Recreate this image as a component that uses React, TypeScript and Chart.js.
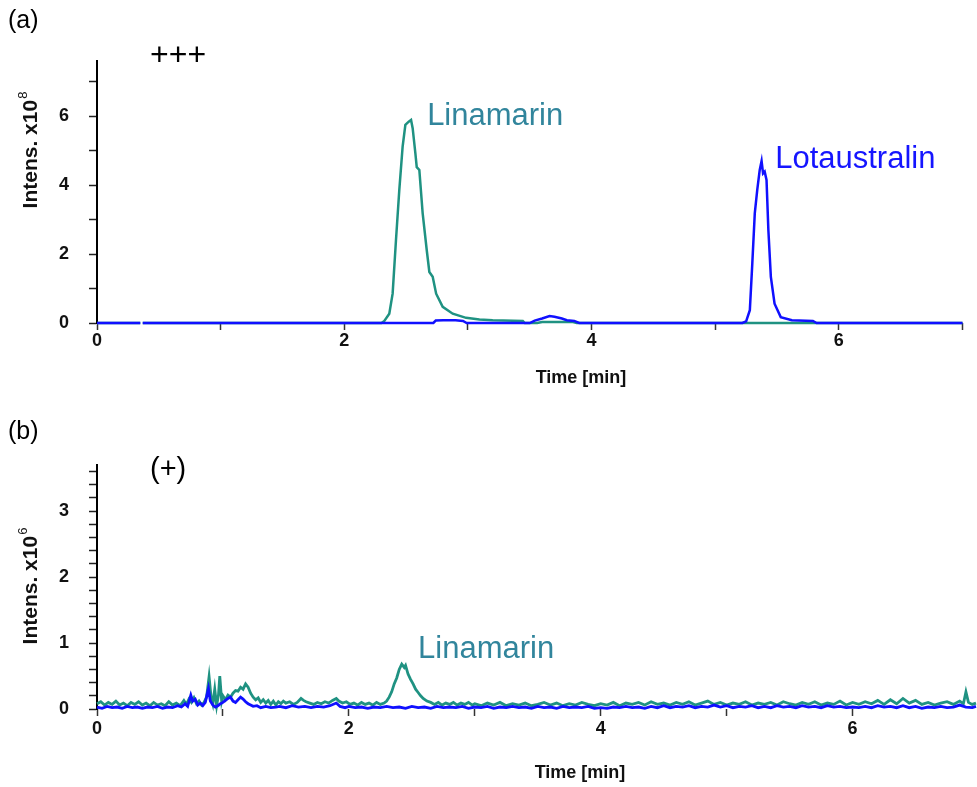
import React, { useEffect, useRef } from "react";
import { Chart, registerables } from "chart.js";

Chart.register(...registerables);

// ---------- data ----------
// Panel (a): time [min], intensity x10^8
const tealA: [number, number | null][] = [
  [0, 0], [0.35, 0], [0.36, null], [0.37, 0], [2.3, 0], [2.324, 0.06], [2.364, 0.27], [2.391, 0.85],
  [2.418, 2.4], [2.445, 3.86], [2.472, 5.12], [2.494, 5.75], [2.521, 5.84], [2.54, 5.89], [2.553, 5.65],
  [2.575, 4.92], [2.586, 4.52], [2.607, 4.44], [2.634, 3.18], [2.667, 2.11], [2.688, 1.48], [2.715, 1.34],
  [2.743, 0.85], [2.796, 0.47], [2.877, 0.27], [2.985, 0.15], [3.093, 0.1], [3.2, 0.08], [3.444, 0.06],
  [3.46, 0], [3.56, 0], [3.6, 0.03], [3.85, 0.03], [3.88, 0], [7, 0],
];
const blueA: [number, number | null][] = [
  [0, 0], [0.35, 0], [0.36, null], [0.37, 0], [2.72, 0], [2.74, 0.07], [2.8, 0.08], [2.9, 0.08], [2.96, 0.06],
  [2.99, 0], [3.5, 0], [3.54, 0.07], [3.6, 0.13], [3.66, 0.2], [3.7, 0.18], [3.76, 0.13], [3.8, 0.08],
  [3.86, 0.06], [3.9, 0], [5.22, 0], [5.25, 0.05], [5.28, 0.37], [5.3, 1.73], [5.32, 3.18], [5.34, 3.86],
  [5.36, 4.44], [5.375, 4.7], [5.387, 4.34], [5.4, 4.39], [5.415, 4.15], [5.43, 2.69], [5.45, 1.34],
  [5.48, 0.56], [5.53, 0.17], [5.62, 0.08], [5.79, 0.06], [5.82, 0], [7, 0],
];

// Panel (b): time [min], intensity x10^6
const tealB: [number, number][] = [
  [0, 0.08], [0.03, 0.11], [0.06, 0.06], [0.09, 0.1], [0.12, 0.07], [0.15, 0.12], [0.18, 0.06], [0.21, 0.09],
  [0.24, 0.05], [0.27, 0.1], [0.3, 0.07], [0.33, 0.11], [0.36, 0.06], [0.39, 0.09], [0.42, 0.05], [0.45, 0.1],
  [0.48, 0.06], [0.51, 0.08], [0.54, 0.05], [0.57, 0.11], [0.6, 0.06], [0.63, 0.09], [0.66, 0.05], [0.69, 0.13],
  [0.71, 0.07], [0.73, 0.15], [0.75, 0.1], [0.77, 0.17], [0.79, 0.08], [0.81, 0.12], [0.83, 0.06], [0.85, 0.1],
  [0.87, 0.18], [0.89, 0.49], [0.905, 0.2], [0.92, 0.08], [0.935, 0.3], [0.95, 0.05], [0.965, 0.22],
  [0.975, 0.5], [0.99, 0.12], [1.0, 0.2], [1.02, 0.14], [1.04, 0.21], [1.06, 0.18], [1.08, 0.24], [1.1, 0.28],
  [1.12, 0.27], [1.14, 0.33], [1.16, 0.3], [1.18, 0.38], [1.2, 0.33], [1.22, 0.24], [1.24, 0.18], [1.26, 0.14],
  [1.28, 0.17], [1.3, 0.1], [1.32, 0.14], [1.34, 0.09], [1.36, 0.13], [1.38, 0.07], [1.4, 0.12], [1.42, 0.06],
  [1.44, 0.11], [1.46, 0.08], [1.48, 0.12], [1.5, 0.09], [1.53, 0.11], [1.56, 0.07], [1.59, 0.1], [1.62, 0.16],
  [1.64, 0.13], [1.66, 0.11], [1.69, 0.09], [1.72, 0.07], [1.75, 0.1], [1.78, 0.08], [1.81, 0.11], [1.84, 0.09],
  [1.87, 0.13], [1.9, 0.16], [1.92, 0.12], [1.95, 0.09], [1.98, 0.11], [2.01, 0.07], [2.04, 0.09], [2.07, 0.06],
  [2.1, 0.1], [2.13, 0.07], [2.16, 0.09], [2.19, 0.06], [2.22, 0.1], [2.25, 0.07], [2.28, 0.09], [2.3, 0.12],
  [2.32, 0.18], [2.34, 0.26], [2.36, 0.38], [2.38, 0.47], [2.4, 0.6], [2.42, 0.68], [2.44, 0.63], [2.45, 0.66],
  [2.47, 0.53], [2.49, 0.45], [2.51, 0.38], [2.53, 0.3], [2.55, 0.25], [2.57, 0.2], [2.59, 0.16], [2.62, 0.12],
  [2.65, 0.1], [2.68, 0.07], [2.71, 0.1], [2.74, 0.06], [2.77, 0.09], [2.8, 0.07], [2.83, 0.1], [2.86, 0.06],
  [2.89, 0.09], [2.92, 0.07], [2.95, 0.1], [2.98, 0.06], [3.0, 0.08], [3.05, 0.05], [3.1, 0.09], [3.15, 0.06],
  [3.2, 0.1], [3.25, 0.05], [3.3, 0.08], [3.35, 0.06], [3.4, 0.09], [3.45, 0.05], [3.5, 0.07], [3.55, 0.1],
  [3.6, 0.06], [3.65, 0.09], [3.7, 0.05], [3.75, 0.08], [3.8, 0.06], [3.85, 0.1], [3.9, 0.07], [3.95, 0.05],
  [4.0, 0.08], [4.05, 0.06], [4.1, 0.1], [4.15, 0.05], [4.2, 0.09], [4.25, 0.07], [4.3, 0.1], [4.35, 0.06],
  [4.4, 0.11], [4.45, 0.07], [4.5, 0.09], [4.55, 0.06], [4.6, 0.1], [4.65, 0.07], [4.7, 0.11], [4.75, 0.06],
  [4.8, 0.09], [4.85, 0.12], [4.9, 0.07], [4.95, 0.1], [5.0, 0.06], [5.05, 0.09], [5.1, 0.07], [5.15, 0.11],
  [5.2, 0.06], [5.25, 0.09], [5.3, 0.07], [5.35, 0.1], [5.4, 0.06], [5.45, 0.11], [5.5, 0.08], [5.55, 0.06],
  [5.6, 0.1], [5.65, 0.07], [5.7, 0.11], [5.75, 0.06], [5.8, 0.09], [5.85, 0.07], [5.9, 0.12], [5.95, 0.06],
  [6.0, 0.1], [6.05, 0.07], [6.1, 0.11], [6.15, 0.08], [6.2, 0.13], [6.25, 0.07], [6.3, 0.14], [6.35, 0.08],
  [6.4, 0.16], [6.45, 0.09], [6.5, 0.13], [6.55, 0.07], [6.6, 0.1], [6.65, 0.06], [6.7, 0.09], [6.75, 0.11],
  [6.8, 0.07], [6.85, 0.12], [6.88, 0.08], [6.9, 0.26], [6.92, 0.1], [6.95, 0.07], [6.98, 0.09],
];
const blueB: [number, number][] = [
  [0, 0.03], [0.04, 0.01], [0.08, 0.04], [0.12, 0.02], [0.16, 0.03], [0.2, 0.01], [0.24, 0.04], [0.28, 0.02],
  [0.32, 0.03], [0.36, 0.01], [0.4, 0.03], [0.44, 0.02], [0.48, 0.04], [0.52, 0.01], [0.56, 0.03], [0.6, 0.02],
  [0.64, 0.05], [0.67, 0.03], [0.7, 0.08], [0.72, 0.04], [0.745, 0.21], [0.76, 0.12], [0.78, 0.15], [0.8, 0.06],
  [0.82, 0.09], [0.84, 0.05], [0.86, 0.1], [0.885, 0.31], [0.9, 0.12], [0.92, 0.06], [0.94, 0.03], [0.96, 0.05],
  [0.98, 0.08], [1.0, 0.1], [1.02, 0.13], [1.04, 0.16], [1.06, 0.18], [1.08, 0.12], [1.1, 0.1], [1.12, 0.14],
  [1.14, 0.18], [1.16, 0.15], [1.18, 0.11], [1.2, 0.08], [1.22, 0.06], [1.24, 0.04], [1.27, 0.05], [1.3, 0.02],
  [1.34, 0.04], [1.38, 0.02], [1.42, 0.03], [1.45, 0.04], [1.5, 0.02], [1.55, 0.05], [1.6, 0.03], [1.65, 0.04],
  [1.7, 0.02], [1.75, 0.04], [1.8, 0.03], [1.85, 0.05], [1.9, 0.09], [1.93, 0.04], [1.97, 0.02], [2.0, 0.04],
  [2.05, 0.02], [2.1, 0.03], [2.15, 0.01], [2.2, 0.03], [2.25, 0.02], [2.3, 0.04], [2.35, 0.02], [2.4, 0.03],
  [2.45, 0.01], [2.5, 0.04], [2.55, 0.02], [2.6, 0.03], [2.65, 0.01], [2.7, 0.04], [2.75, 0.02], [2.8, 0.03],
  [2.85, 0.02], [2.9, 0.04], [2.95, 0.01], [3.0, 0.03], [3.05, 0.02], [3.1, 0.04], [3.15, 0.01], [3.2, 0.03],
  [3.25, 0.02], [3.3, 0.04], [3.35, 0.02], [3.4, 0.03], [3.45, 0.01], [3.5, 0.04], [3.55, 0.02], [3.6, 0.03],
  [3.65, 0.01], [3.7, 0.04], [3.75, 0.02], [3.8, 0.03], [3.85, 0.02], [3.9, 0.04], [3.95, 0.01], [4.0, 0.02],
  [4.05, 0.01], [4.1, 0.03], [4.15, 0.02], [4.2, 0.04], [4.25, 0.02], [4.3, 0.03], [4.35, 0.01], [4.4, 0.04],
  [4.45, 0.02], [4.5, 0.05], [4.55, 0.02], [4.6, 0.04], [4.65, 0.03], [4.7, 0.05], [4.75, 0.02], [4.8, 0.04],
  [4.85, 0.03], [4.9, 0.06], [4.95, 0.03], [5.0, 0.05], [5.05, 0.02], [5.1, 0.04], [5.15, 0.03], [5.2, 0.05],
  [5.25, 0.02], [5.3, 0.04], [5.35, 0.02], [5.4, 0.05], [5.45, 0.03], [5.5, 0.04], [5.55, 0.02], [5.6, 0.05],
  [5.65, 0.03], [5.7, 0.04], [5.75, 0.02], [5.8, 0.05], [5.85, 0.03], [5.9, 0.04], [5.95, 0.02], [6.0, 0.03],
  [6.05, 0.02], [6.1, 0.04], [6.15, 0.02], [6.2, 0.05], [6.25, 0.03], [6.3, 0.04], [6.35, 0.02], [6.4, 0.05],
  [6.45, 0.02], [6.5, 0.04], [6.55, 0.01], [6.6, 0.03], [6.65, 0.02], [6.7, 0.04], [6.75, 0.02], [6.8, 0.03],
  [6.85, 0.06], [6.9, 0.03], [6.95, 0.02], [6.98, 0.04],
];

// ticks
const xTicksA = [0, 1, 2, 3, 4, 5, 6, 7];
const xTicksB = [0, 1, 2, 3, 4, 5, 6];
const xLabels = [0, 2, 4, 6];
const yTicksA = [0, 1, 2, 3, 4, 5, 6, 7];
const yLabelsA = [0, 2, 4, 6];
const yTicksB = [0, 0.2, 0.4, 0.6, 0.8, 1, 1.2, 1.4, 1.6, 1.8, 2, 2.2, 2.4, 2.6, 2.8, 3, 3.2, 3.4, 3.6];
const yLabelsB = [0, 1, 2, 3];

// ---------- styles ----------
const FONT = "'Liberation Sans', Arial, Helvetica, sans-serif";
const TEAL = "#1f9282";
const BLUE = "#1010ff";
const LABEL_TEAL = "#31859c";
const LABEL_BLUE = "#1515ff";

type Item = {
  text: string;
  sup?: string;
  x?: number; y?: number; // data coords
  px?: number; py?: number; // pixel coords
  font: string;
  supFont?: string;
  color: string;
  align?: "left" | "center";
  rot?: boolean;
};

const textPlugin = {
  id: "texts",
  afterDraw(chart: any, _args: any, opts: any) {
    const ctx: CanvasRenderingContext2D = chart.ctx;
    const xs = chart.scales.x;
    const ys = chart.scales.y;
    const items: Item[] = opts.items || [];
    for (const a of items) {
      ctx.save();
      const px = a.px !== undefined ? a.px : xs.getPixelForValue(a.x);
      const py = a.py !== undefined ? a.py : ys.getPixelForValue(a.y);
      ctx.translate(px, py);
      if (a.rot) ctx.rotate(-Math.PI / 2);
      ctx.fillStyle = a.color;
      ctx.textBaseline = "middle";
      ctx.textAlign = "left";
      ctx.font = a.font;
      const w = ctx.measureText(a.text).width;
      let sw = 0;
      if (a.sup) {
        ctx.font = a.supFont || a.font;
        sw = ctx.measureText(a.sup).width + 1;
        ctx.font = a.font;
      }
      const start = a.align === "center" ? -(w + sw) / 2 : 0;
      ctx.fillText(a.text, start, 0);
      if (a.sup) {
        ctx.font = a.supFont || a.font;
        ctx.fillText(a.sup, start + w + 1, -8);
      }
      ctx.restore();
    }
  },
};

function makeConfig(opts: {
  teal: [number, number | null][];
  blue: [number, number | null][];
  xMax: number;
  yMax: number;
  xTicks: number[];
  yTicks: number[];
  yLabels: number[];
  lineWidth: number;
  padTop: number;
  padRight: number;
  xHeight: number;
  xPad: number;
  items: Item[];
}) {
  const tickFont = { family: FONT, size: 18, weight: "bold" as const };
  return {
    type: "line" as const,
    data: {
      datasets: [
        {
          data: opts.blue.map(([x, y]) => ({ x, y })),
          borderColor: BLUE,
          borderWidth: opts.lineWidth,
          pointRadius: 0,
          tension: 0,
          spanGaps: false,
          clip: 6,
        },
        {
          data: opts.teal.map(([x, y]) => ({ x, y })),
          borderColor: TEAL,
          borderWidth: opts.lineWidth,
          pointRadius: 0,
          tension: 0,
          spanGaps: false,
          clip: 6,
        },
      ],
    },
    options: {
      animation: false,
      responsive: false,
      events: [],
      layout: { padding: { top: opts.padTop, right: opts.padRight, left: 0, bottom: 0 } },
      plugins: {
        legend: { display: false },
        tooltip: { enabled: false },
        texts: { items: opts.items },
      },
      scales: {
        x: {
          type: "linear",
          min: 0,
          max: opts.xMax,
          border: { display: false },
          grid: { drawOnChartArea: false, drawTicks: true, tickLength: 7, tickColor: "#333", tickWidth: 1.5 },
          afterBuildTicks: (s: any) => {
            s.ticks = opts.xTicks.map((v) => ({ value: v }));
          },
          afterFit: (s: any) => {
            s.height = opts.xHeight;
          },
          ticks: {
            autoSkip: false,
            maxRotation: 0,
            padding: opts.xPad,
            color: "#111",
            font: tickFont,
            callback: (v: any) => (xLabels.includes(Number(v)) ? String(v) : ""),
          },
        },
        y: {
          type: "linear",
          min: 0,
          max: opts.yMax,
          border: { display: true, color: "#000", width: 2 },
          grid: { drawOnChartArea: false, drawTicks: true, tickLength: 8, tickColor: "#222", tickWidth: 1.5 },
          afterBuildTicks: (s: any) => {
            s.ticks = opts.yTicks.map((v) => ({ value: v }));
          },
          afterFit: (s: any) => {
            s.width = 97;
          },
          ticks: {
            autoSkip: false,
            padding: 20,
            color: "#111",
            font: tickFont,
            callback: (v: any) => {
              const n = Number(v);
              return opts.yLabels.some((l) => Math.abs(l - n) < 1e-6) ? String(Math.round(n)) : "";
            },
          },
        },
      },
    },
    plugins: [textPlugin],
  };
}

const titleFont = `bold 18px ${FONT}`;
const yTitleFont = `bold 21px ${FONT}`;
const supFont = `13px ${FONT}`;
const panelFont = `25px ${FONT}`;
const noteFont = `31px ${FONT}`;

export default function App() {
  const refA = useRef<HTMLCanvasElement>(null);
  const refB = useRef<HTMLCanvasElement>(null);

  useEffect(() => {
    const a = new Chart(
      refA.current as HTMLCanvasElement,
      makeConfig({
        teal: tealA,
        blue: blueA,
        xMax: 7,
        yMax: 7.6,
        xTicks: xTicksA,
        yTicks: yTicksA,
        yLabels: yLabelsA,
        lineWidth: 2.5,
        padTop: 61,
        padRight: 14.5,
        xHeight: 72,
        xPad: 0,
        items: [
          { text: "(a)", px: 8, py: 21, font: panelFont, color: "#000" },
          { text: "+++", px: 150, py: 56, font: `32px ${FONT}`, color: "#000" },
          { text: "Linamarin", x: 2.67, y: 5.98, font: noteFont, color: LABEL_TEAL },
          { text: "Lotaustralin", x: 5.485, y: 4.73, font: noteFont, color: LABEL_BLUE },
          { text: "Time [min]", px: 581, py: 378, font: titleFont, color: "#111", align: "center" },
          { text: "Intens. x10", sup: "8", supFont, px: 31, py: 150, font: yTitleFont, color: "#111", align: "center", rot: true },
        ],
      }) as any
    );
    const b = new Chart(
      refB.current as HTMLCanvasElement,
      makeConfig({
        teal: tealB,
        blue: blueB,
        xMax: 6.98,
        yMax: 3.7,
        xTicks: xTicksB,
        yTicks: yTicksB,
        yLabels: yLabelsB,
        lineWidth: 2.8,
        padTop: 70,
        padRight: 1,
        xHeight: 78,
        xPad: 2,
        items: [
          { text: "(b)", px: 8, py: 37, font: panelFont, color: "#000" },
          { text: "(+)", px: 150, py: 75, font: `29px ${FONT}`, color: "#000" },
          { text: "Linamarin", x: 2.55, y: 0.91, font: noteFont, color: LABEL_TEAL },
          { text: "Time [min]", px: 580, py: 378, font: titleFont, color: "#111", align: "center" },
          { text: "Intens. x10", sup: "6", supFont, px: 31, py: 191, font: yTitleFont, color: "#111", align: "center", rot: true },
        ],
      }) as any
    );
    return () => {
      a.destroy();
      b.destroy();
    };
  }, []);

  return (
    <div style={{ position: "absolute", left: 0, top: 0, width: 977, height: 787, background: "#fff" }}>
      <canvas ref={refA} width={977} height={395} style={{ position: "absolute", left: 0, top: 0, display: "block" }} />
      <canvas ref={refB} width={977} height={392} style={{ position: "absolute", left: 0, top: 395, display: "block" }} />
    </div>
  );
}
